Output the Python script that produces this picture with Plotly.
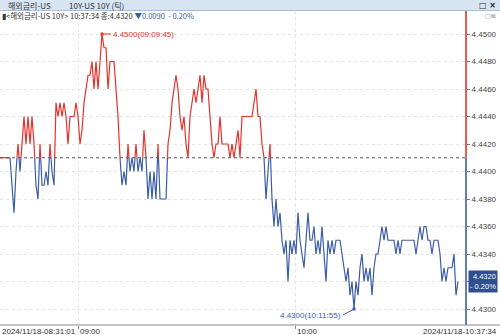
import plotly.graph_objects as go

# ---------------- data ----------------
BASE = 4.4410  # previous close (reference line)

values = [
    4.441, 4.441, 4.441, 4.441, 4.441, 4.441, 4.439, 4.437, 4.440, 4.442, 4.440, 4.442,
    4.444, 4.442, 4.444, 4.442, 4.444, 4.442, 4.439, 4.438, 4.442, 4.439, 4.439, 4.440,
    4.439, 4.442, 4.440, 4.439,
    4.445, 4.444, 4.445, 4.444, 4.445, 4.444, 4.442, 4.444, 4.444, 4.444, 4.445, 4.444,
    4.442, 4.443, 4.445, 4.446, 4.447,
    4.447, 4.448, 4.446, 4.448, 4.446, 4.448, 4.450, 4.449, 4.449, 4.446, 4.448, 4.448,
    4.448, 4.446, 4.444, 4.441,
    4.439, 4.440, 4.439, 4.442, 4.440, 4.441, 4.440, 4.442, 4.440, 4.441, 4.440, 4.443,
    4.441, 4.438, 4.440, 4.438, 4.440, 4.438, 4.442,
    4.438, 4.438, 4.438, 4.438, 4.442, 4.443, 4.445, 4.446, 4.447, 4.446, 4.444, 4.443,
    4.444, 4.442, 4.441,
    4.444, 4.445, 4.446, 4.445, 4.446, 4.447, 4.445, 4.447, 4.446, 4.446, 4.444, 4.442,
    4.441, 4.442, 4.442, 4.444, 4.442, 4.442, 4.442, 4.442, 4.441, 4.442, 4.441, 4.442,
    4.443, 4.441,
    4.444, 4.444, 4.444, 4.444, 4.444, 4.444, 4.445, 4.446, 4.444, 4.444, 4.442, 4.441,
    4.438, 4.440, 4.442, 4.438,
    4.436, 4.438, 4.436, 4.437, 4.435, 4.434, 4.435, 4.432, 4.435, 4.434, 4.435, 4.434,
    4.437, 4.435, 4.434, 4.433, 4.435, 4.437, 4.435, 4.435, 4.436, 4.434, 4.435, 4.434,
    4.436, 4.434, 4.432,
    4.435, 4.434, 4.435, 4.434, 4.435, 4.435, 4.435, 4.434, 4.433, 4.432, 4.433, 4.431,
    4.432, 4.430, 4.432, 4.431, 4.433, 4.434, 4.432, 4.433, 4.432, 4.433, 4.431, 4.433,
    4.434, 4.434,
    4.435, 4.436, 4.435, 4.436, 4.435, 4.435, 4.435, 4.435, 4.434, 4.435, 4.434, 4.435,
    4.435, 4.435, 4.435, 4.435, 4.435, 4.435, 4.434, 4.435, 4.436, 4.435, 4.436, 4.436,
    4.435, 4.435, 4.434, 4.435, 4.435, 4.435, 4.434, 4.432, 4.433, 4.432, 4.433, 4.433,
    4.433, 4.434, 4.431, 4.432,
]

y_tick_vals = [4.4300, 4.4320, 4.4340, 4.4360, 4.4380, 4.4400, 4.4420, 4.4440, 4.4460, 4.4480, 4.4500]
y_tick_text = ["4.4300", "4.4320", "4.4340", "4.4360", "4.4380", "4.4400", "4.4420", "4.4440", "4.4460", "4.4480", "4.4500"]

x_tick_index = [39, 147.5]          # tick index of the hour marks
x_tick_labels = ["09:00", "10:00"]
start_label = "2024/11/18-08:31:01"
end_label = "2024/11/18-10:37:34"
peak_time = "09:09:45"
low_time = "10:11:55"

header_left = "해외금리-US"
header_mid = "10Y-US 10Y (틱)"
info_black = "&lt;해외금리-US 10Y&gt; 10:37:34 종:4.4320"
info_blue = "▼0.0090  - 0.20%"
last_value = 4.4320
last_pct = "- 0.20%"

# ---------------- styling ----------------
RED = "#e5322b"
BLUE = "#3b5ca6"
W, H = 500, 335
ML, MR, MT, MB = 0, 34, 11, 10
PW, PH = W - ML - MR, H - MT - MB
NUM_FONT = "Liberation Sans"
KR_FONT = "Noto Sans CJK KR"


def px_x(p):
    return (p - ML) / PW


def px_y(p):
    return 1 - (p - MT) / PH


n = len(values)
xs = list(range(n))

# split line into red (>= base) and blue (< base) parts
red_x, red_y, blue_x, blue_y = [], [], [], []
cur = None


def add_seg(color, x0, y0, x1, y1):
    global cur
    tx, ty = (red_x, red_y) if color == "r" else (blue_x, blue_y)
    if cur != color:
        if tx:
            tx.append(None)
            ty.append(None)
        tx.extend([x0, x1])
        ty.extend([y0, y1])
    else:
        tx.append(x1)
        ty.append(y1)
    cur = color


for i in range(n - 1):
    a = values[i] - BASE
    b = values[i + 1] - BASE
    a = 0 if abs(a) < 1e-9 else a
    b = 0 if abs(b) < 1e-9 else b
    if a >= 0 and b >= 0:
        add_seg("r", xs[i], values[i], xs[i + 1], values[i + 1])
    elif a <= 0 and b <= 0:
        add_seg("b", xs[i], values[i], xs[i + 1], values[i + 1])
    else:
        t = a / (a - b)
        xc = xs[i] + t
        c1 = "r" if a > 0 else "b"
        c2 = "r" if b > 0 else "b"
        add_seg(c1, xs[i], values[i], xc, BASE)
        add_seg(c2, xc, BASE, xs[i + 1], values[i + 1])

fig = go.Figure()
fig.add_trace(go.Scatter(x=red_x, y=red_y, mode="lines", line=dict(color=RED, width=1.2),
                         hoverinfo="skip", showlegend=False))
fig.add_trace(go.Scatter(x=blue_x, y=blue_y, mode="lines", line=dict(color=BLUE, width=1.2),
                         hoverinfo="skip", showlegend=False))

ipk = max(range(n), key=lambda k: values[k])
ilo = min(range(n), key=lambda k: values[k])
fig.add_trace(go.Scatter(x=[ipk], y=[values[ipk]], mode="markers",
                         marker=dict(color=RED, size=3, symbol="square"), hoverinfo="skip", showlegend=False))
fig.add_trace(go.Scatter(x=[ilo], y=[values[ilo]], mode="markers",
                         marker=dict(color=BLUE, size=3, symbol="square"), hoverinfo="skip", showlegend=False))

x_max = (n - 1) * PW / 458.0
y_lo = 4.4300 - 16 / 13750
y_hi = 4.4500 + 23 / 13750

# the last-value box covers the matching axis label, as in the original
shown_tick_text = ["" if abs(v - last_value) < 1e-9 else t for v, t in zip(y_tick_vals, y_tick_text)]

fig.update_layout(
    width=W, height=H,
    margin=dict(l=ML, r=MR, t=MT, b=MB, pad=0),
    paper_bgcolor="white", plot_bgcolor="white",
    showlegend=False,
    xaxis=dict(range=[0, x_max], showticklabels=False, tickvals=x_tick_index,
               ticks="outside", ticklen=3, tickcolor="#888",
               showgrid=True, gridcolor="#e4e4e4", griddash="dot", gridwidth=1,
               zeroline=False, showline=False, fixedrange=True),
    yaxis=dict(range=[y_lo, y_hi], side="right", tickvals=y_tick_vals, ticktext=shown_tick_text,
               ticks="outside", ticklen=3, tickcolor="#777",
               tickfont=dict(family=NUM_FONT, size=8, color="#444"),
               showgrid=True, gridcolor="#e4e4e4", griddash="dot", gridwidth=1,
               zeroline=False, showline=False, fixedrange=True),
)

shapes = []
# baseline (previous close)
shapes.append(dict(type="line", xref="paper", yref="y", x0=0, x1=1, y0=BASE, y1=BASE,
                   line=dict(color="#555", width=1, dash="dot")))
# right axis line, red above / blue below
shapes.append(dict(type="line", xref="paper", yref="y", x0=1, x1=1, y0=BASE, y1=y_hi,
                   line=dict(color=RED, width=1.6)))
shapes.append(dict(type="line", xref="paper", yref="y", x0=1, x1=1, y0=y_lo, y1=BASE,
                   line=dict(color=BLUE, width=1.6)))
# bottom axis line
shapes.append(dict(type="line", xref="paper", yref="paper", x0=0, x1=px_x(W), y0=0, y1=0,
                   line=dict(color="#8a8a8a", width=1)))
# header bar
shapes.append(dict(type="rect", xref="paper", yref="paper", x0=0, x1=px_x(W),
                   y0=px_y(10), y1=px_y(0), fillcolor="#d7e5f3", line=dict(width=0), layer="above"))
shapes.append(dict(type="line", xref="paper", yref="paper", x0=0, x1=px_x(W),
                   y0=px_y(10.5), y1=px_y(10.5), line=dict(color="#a8bfd8", width=1)))
fig.update_layout(shapes=shapes)

ann = []
# header texts
ann.append(dict(xref="paper", yref="paper", x=px_x(6), y=px_y(5), text=header_left,
                showarrow=False, xanchor="left", yanchor="middle",
                font=dict(family=KR_FONT, size=8, color="#333")))
ann.append(dict(xref="paper", yref="paper", x=px_x(67), y=px_y(5), text=header_mid,
                showarrow=False, xanchor="left", yanchor="middle",
                font=dict(family=KR_FONT, size=8, color="#333")))
ann.append(dict(xref="paper", yref="paper", x=px_x(498), y=px_y(5), text="<b>□ ×</b>",
                showarrow=False, xanchor="right", yanchor="middle",
                font=dict(family="DejaVu Sans", size=8, color="#222")))
ann.append(dict(xref="paper", yref="paper", x=px_x(498), y=px_y(15), text="□⊠",
                showarrow=False, xanchor="right", yanchor="middle",
                font=dict(family="DejaVu Sans", size=6, color="#888")))
# info line
ann.append(dict(xref="paper", yref="paper", x=px_x(0), y=px_y(15),
                text="▮" + info_black + " <span style='color:" + BLUE + "'>" + info_blue + "</span>",
                showarrow=False, xanchor="left", yanchor="middle",
                font=dict(family=KR_FONT, size=7.5, color="#333")))
# peak & low labels
ann.append(dict(x=ipk, y=values[ipk], xref="x", yref="y",
                text=f"{values[ipk]:.4f}({peak_time})", showarrow=True, arrowhead=0,
                arrowwidth=1, arrowcolor=RED, ax=9, ay=0, xanchor="left", yanchor="middle",
                font=dict(family=NUM_FONT, size=8, color=RED)))
ann.append(dict(x=ilo, y=values[ilo], xref="x", yref="y",
                text=f"{values[ilo]:.4f}({low_time})", showarrow=True, arrowhead=0,
                arrowwidth=1, arrowcolor=BLUE, ax=-11, ay=6, xanchor="right", yanchor="middle",
                font=dict(family=NUM_FONT, size=8, color=BLUE)))
# last value box
ann.append(dict(xref="paper", yref="y", x=px_x(468), y=last_value,
                text=f"{last_value:.4f}<br>{last_pct}", showarrow=False, xanchor="left",
                yanchor="middle", align="right", bgcolor="#2f4f8e", borderpad=1,
                font=dict(family=NUM_FONT, size=7.5, color="white")))
# x labels
lab_y = px_y(331)
ann.append(dict(xref="paper", yref="paper", x=0, y=lab_y, text=start_label, showarrow=False,
                xanchor="left", yanchor="middle", font=dict(family=NUM_FONT, size=8, color="#333")))
for xi, lab in zip(x_tick_index, x_tick_labels):
    ann.append(dict(xref="x", yref="paper", x=xi, y=lab_y, text=lab, showarrow=False,
                    xanchor="left", yanchor="middle", xshift=0,
                    font=dict(family=NUM_FONT, size=8, color="#333")))
ann.append(dict(xref="paper", yref="paper", x=px_x(499), y=lab_y, text=end_label, showarrow=False,
                xanchor="right", yanchor="middle", font=dict(family=NUM_FONT, size=8, color="#333")))
fig.update_layout(annotations=ann)

fig.write_html("out.html")
